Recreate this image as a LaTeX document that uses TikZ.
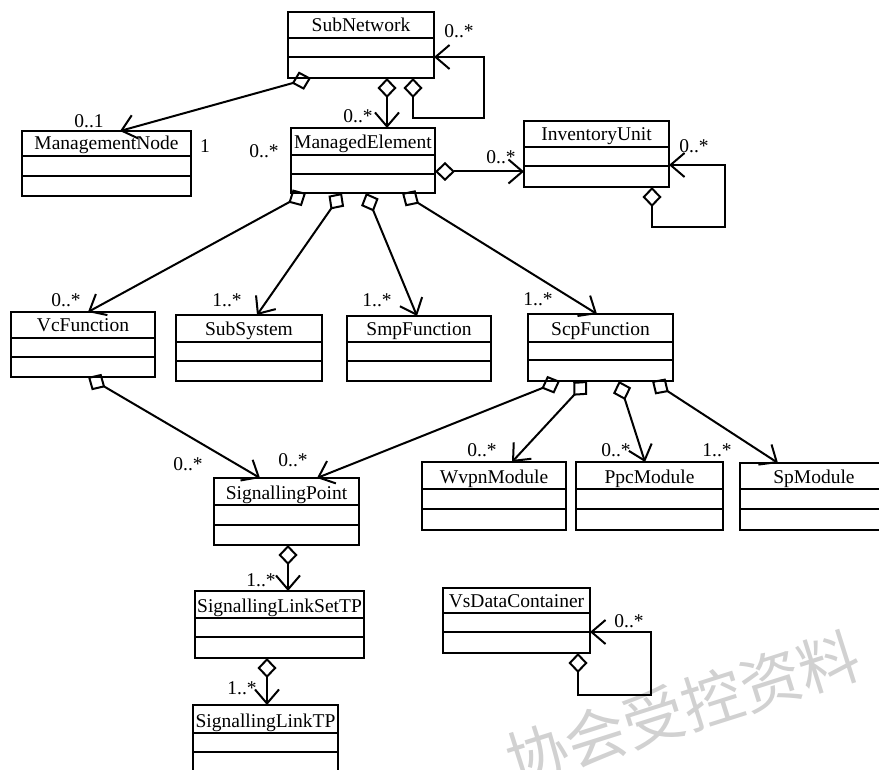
\documentclass[tikz,border=0pt]{standalone}
\usepackage{fontspec}
\setmainfont{Liberation Serif}
\newfontfamily\cjk{Noto Sans CJK SC}
\usetikzlibrary{arrows.meta}
\tikzset{
  classbox/.style={draw, line width=2pt, anchor=north west, inner sep=0pt, outer sep=0pt},
  boxline/.style={line width=2pt},
  titletext/.style={font=\fontsize{19.5}{22}\selectfont, inner sep=0pt, anchor=base},
  mult/.style={font=\fontsize{19.5}{22}\selectfont, inner sep=0pt},
  agg/.style={line width=2pt, {Diamond[open,length=20pt,width=19pt]}-{Straight Barb[length=14pt,width=24pt]}},
  watermark/.style={font=\cjk\fontsize{61}{61}\selectfont, text=black!18, inner sep=0pt}
}
% #1 name, #2 title, #3 x1, #4 y1, #5 x2, #6 y2, #7 first line y, #8 second line y
\newcommand\umlclass[8]{%
  \node[classbox, minimum width={(#5)-(#3)}, minimum height={(#6)-(#4)}] (#1) at (#3,#4) {};
  \node[titletext] (#1-title) at ({((#3)+(#5))/2},{(#7)-6}) {#2};
  \draw[boxline] (#3,#7) -- (#5,#7) (#3,#8) -- (#5,#8);
}
\begin{document}
\begin{tikzpicture}[x=1pt,y=-1pt]
\useasboundingbox (0,0) rectangle (879,770);
\node[watermark, rotate=17.6] (wm) at (683,708) {协会受控资料};

\umlclass{SN}{SubNetwork}{288}{12}{434}{78}{38}{57}
\umlclass{MN}{ManagementNode}{22}{131}{191}{196}{156}{176}
\umlclass{ME}{ManagedElement}{291}{128}{435}{193}{155}{174}
\umlclass{IU}{InventoryUnit}{524}{121}{669}{187}{147}{166}
\umlclass{VcF}{VcFunction}{11}{312}{155}{377}{338}{357}
\umlclass{SS}{SubSystem}{176}{315}{322}{381}{342}{361}
\umlclass{Smp}{SmpFunction}{347}{316}{491}{381}{342}{361}
\umlclass{Scp}{ScpFunction}{528}{314}{673}{381}{342}{360}
\umlclass{Wvpn}{WvpnModule}{422}{462}{566}{530}{489}{509}
\umlclass{Ppc}{PpcModule}{576}{462}{723}{530}{489}{509}
\umlclass{Sp}{SpModule}{740}{463}{888}{530}{489}{509}
\umlclass{SP}{SignallingPoint}{214}{478}{359}{545}{505}{525}
\umlclass{SLS}{SignallingLinkSetTP}{195}{591}{364}{658}{618}{637}
\umlclass{SLT}{SignallingLinkTP}{193}{705}{338}{773}{733}{752}
\umlclass{VsD}{VsDataContainer}{443}{588}{590}{653}{613}{632}

% connectors
\draw[agg] ([xshift=23pt]SN.south west) -- ([xshift=98pt]MN.north west);
\draw[agg] ([xshift=99pt]SN.south west) -- ([xshift=96pt]ME.north west);
\draw[agg] ([xshift=125pt]SN.south west) -- ++(0,40) -- ++(71,0) |- ([yshift=-12pt]SN.east);
\coordinate (meiu) at ([yshift=-11pt]ME.east);
\draw[agg] (meiu) -- (meiu -| IU.west);
\draw[agg] ([xshift=128pt]IU.south west) -- ++(0,40) -- ++(73,0) |- ([yshift=-11pt]IU.east);
\draw[agg] ([xshift=15pt]ME.south west) -- ([xshift=77pt]VcF.north west);
\draw[agg] ([xshift=51pt]ME.south west) -- ([xshift=81pt]SS.north west);
\draw[agg] ([xshift=75pt]ME.south west) -- ([xshift=70pt]Smp.north west);
\draw[agg] ([xshift=111pt]ME.south west) -- ([xshift=69pt]Scp.north west);
\draw[agg] ([xshift=77pt]VcF.south west) -- ([xshift=46pt]SP.north west);
\draw[agg] ([xshift=32pt]Scp.south west) -- ([xshift=103pt]SP.north west);
\draw[agg] ([xshift=59pt]Scp.south west) -- ([xshift=90pt]Wvpn.north west);
\draw[agg] ([xshift=91pt]Scp.south west) -- ([xshift=69pt]Ppc.north west);
\draw[agg] ([xshift=124pt]Scp.south west) -- ([xshift=38pt]Sp.north west);
\draw[agg] ([xshift=74pt]SP.south west) -- ([xshift=93pt]SLS.north west);
\draw[agg] ([xshift=72pt]SLS.south west) -- ([xshift=74pt]SLT.north west);
\draw[agg] ([xshift=135pt]VsD.south west) -- ++(0,42) -- ++(73,0) |- ([yshift=-11.5pt]VsD.east);

% multiplicities
\node[mult] (m1) at (459,31) {0..*};
\node[mult] (m2) at (89,121) {0..1};
\node[mult] (m3) at (205,146) {1};
\node[mult] (m4) at (358,116) {0..*};
\node[mult] (m5) at (264,151) {0..*};
\node[mult] (m6) at (501,157) {0..*};
\node[mult] (m7) at (694,146) {0..*};
\node[mult] (m8) at (66,300) {0..*};
\node[mult] (m9) at (227,300) {1..*};
\node[mult] (m10) at (377,300) {1..*};
\node[mult] (m11) at (538,299) {1..*};
\node[mult] (m12) at (188,464) {0..*};
\node[mult] (m13) at (293,460) {0..*};
\node[mult] (m14) at (482,450) {0..*};
\node[mult] (m15) at (616,450) {0..*};
\node[mult] (m16) at (717,450) {1..*};
\node[mult] (m17) at (261,580) {1..*};
\node[mult] (m18) at (242,688) {1..*};
\node[mult] (m19) at (629,621) {0..*};
\end{tikzpicture}
\end{document}
